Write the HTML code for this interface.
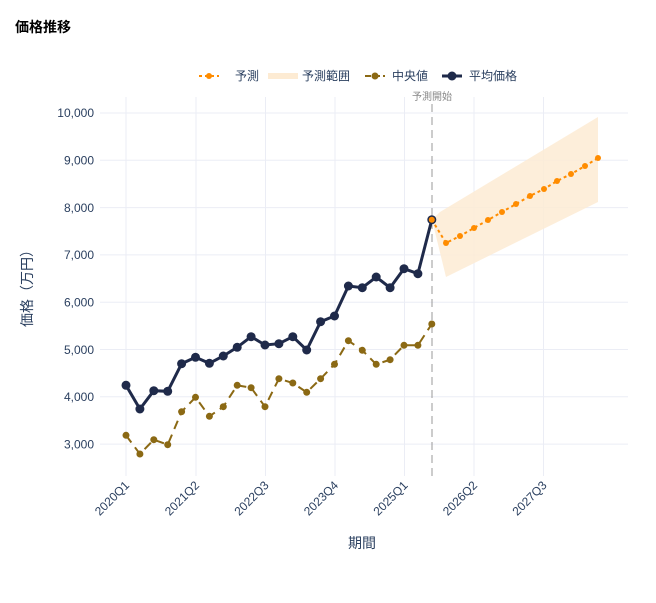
<!DOCTYPE html>
<html><head><meta charset="utf-8"><style>
body{margin:0;background:#fff;}
svg text{font-family:"Liberation Sans","Noto Sans CJK JP",sans-serif;}
</style></head><body>
<svg width="656" height="598" viewBox="0 0 656 598" xmlns="http://www.w3.org/2000/svg">
<rect width="656" height="598" fill="#fff"/>
<text x="15" y="32" font-size="14" font-weight="bold" fill="#000">価格推移</text>
<!-- grid -->
<g stroke="#ebedf5" stroke-width="1">
<line x1="100" y1="113" x2="628" y2="113"/><line x1="100" y1="160.3" x2="628" y2="160.3"/>
<line x1="100" y1="207.6" x2="628" y2="207.6"/><line x1="100" y1="254.9" x2="628" y2="254.9"/>
<line x1="100" y1="302.2" x2="628" y2="302.2"/><line x1="100" y1="349.5" x2="628" y2="349.5"/>
<line x1="100" y1="396.8" x2="628" y2="396.8"/><line x1="100" y1="444.1" x2="628" y2="444.1"/>
<line x1="126" y1="97" x2="126" y2="476"/><line x1="196" y1="97" x2="196" y2="476"/>
<line x1="265.5" y1="97" x2="265.5" y2="476"/><line x1="335" y1="97" x2="335" y2="476"/>
<line x1="404.5" y1="97" x2="404.5" y2="476"/><line x1="474" y1="97" x2="474" y2="476"/>
<line x1="543.5" y1="97" x2="543.5" y2="476"/>
</g>
<g font-size="12" fill="#2a3f5f" text-anchor="end">
<text x="94" y="117">10,000</text><text x="94" y="164.5">9,000</text><text x="94" y="212">8,000</text>
<text x="94" y="259">7,000</text><text x="94" y="306.5">6,000</text><text x="94" y="354">5,000</text>
<text x="94" y="401">4,000</text><text x="94" y="448.5">3,000</text>
</g>
<g font-size="12" fill="#2a3f5f" text-anchor="end">
<text transform="translate(130,486) rotate(-45)">2020Q1</text>
<text transform="translate(200,486) rotate(-45)">2021Q2</text>
<text transform="translate(269.5,486) rotate(-45)">2022Q3</text>
<text transform="translate(339,486) rotate(-45)">2023Q4</text>
<text transform="translate(408.5,486) rotate(-45)">2025Q1</text>
<text transform="translate(478,486) rotate(-45)">2026Q2</text>
<text transform="translate(547.5,486) rotate(-45)">2027Q3</text>
</g>
<text x="362" y="548" font-size="14" fill="#2a3f5f" text-anchor="middle">期間</text>
<text transform="translate(32,285) rotate(-90)" font-size="14" fill="#2a3f5f" text-anchor="middle">価格（万円）</text>
<!-- band -->
<polygon points="432,219.7 440,212 598,117 598,202 446,277" fill="#fdebd3" opacity="0.85"/>
<!-- vline -->
<line x1="432" y1="104" x2="432" y2="476" stroke="#999" stroke-width="1" stroke-dasharray="8,5"/>
<text x="432" y="100" font-size="10" fill="#888" text-anchor="middle">予測開始</text>
<!-- median -->
<polyline fill="none" stroke="#8b6914" stroke-width="2" stroke-dasharray="9,6" points="126,435.3 139.9,454 153.8,439.7 167.7,444.7 181.6,411.7 195.5,397.3 209.4,416.3 223.3,406.7 237.2,385.3 251.1,387.7 265,406.7 278.9,378.7 292.8,383 306.7,392.3 320.6,378.7 334.5,364.3 348.4,340.7 362.3,350.3 376.2,364.3 390.1,359.7 404,345.3 417.9,345.3 431.8,324"/>
<g fill="#8b6914">
<circle cx="126" cy="435.3" r="3.5"/><circle cx="139.9" cy="454" r="3.5"/><circle cx="153.8" cy="439.7" r="3.5"/><circle cx="167.7" cy="444.7" r="3.5"/><circle cx="181.6" cy="411.7" r="3.5"/><circle cx="195.5" cy="397.3" r="3.5"/><circle cx="209.4" cy="416.3" r="3.5"/><circle cx="223.3" cy="406.7" r="3.5"/><circle cx="237.2" cy="385.3" r="3.5"/><circle cx="251.1" cy="387.7" r="3.5"/><circle cx="265" cy="406.7" r="3.5"/><circle cx="278.9" cy="378.7" r="3.5"/><circle cx="292.8" cy="383" r="3.5"/><circle cx="306.7" cy="392.3" r="3.5"/><circle cx="320.6" cy="378.7" r="3.5"/><circle cx="334.5" cy="364.3" r="3.5"/><circle cx="348.4" cy="340.7" r="3.5"/><circle cx="362.3" cy="350.3" r="3.5"/><circle cx="376.2" cy="364.3" r="3.5"/><circle cx="390.1" cy="359.7" r="3.5"/><circle cx="404" cy="345.3" r="3.5"/><circle cx="417.9" cy="345.3" r="3.5"/><circle cx="431.8" cy="324" r="3.5"/>
</g>
<!-- average -->
<polyline fill="none" stroke="#1f2a4a" stroke-width="3" points="126,385.3 139.9,409 153.8,390.7 167.7,391.3 181.6,363.7 195.5,357.3 209.4,363.3 223.3,356 237.2,347.3 251.1,336.7 265,345 278.9,343.7 292.8,336.7 306.7,350 320.6,321.7 334.5,316 348.4,286 362.3,287.7 376.2,277 390.1,287.7 404,268.7 417.9,273.7 431.8,219.7"/>
<g fill="#1f2a4a">
<circle cx="126" cy="385.3" r="4.5"/><circle cx="139.9" cy="409" r="4.5"/><circle cx="153.8" cy="390.7" r="4.5"/><circle cx="167.7" cy="391.3" r="4.5"/><circle cx="181.6" cy="363.7" r="4.5"/><circle cx="195.5" cy="357.3" r="4.5"/><circle cx="209.4" cy="363.3" r="4.5"/><circle cx="223.3" cy="356" r="4.5"/><circle cx="237.2" cy="347.3" r="4.5"/><circle cx="251.1" cy="336.7" r="4.5"/><circle cx="265" cy="345" r="4.5"/><circle cx="278.9" cy="343.7" r="4.5"/><circle cx="292.8" cy="336.7" r="4.5"/><circle cx="306.7" cy="350" r="4.5"/><circle cx="320.6" cy="321.7" r="4.5"/><circle cx="334.5" cy="316" r="4.5"/><circle cx="348.4" cy="286" r="4.5"/><circle cx="362.3" cy="287.7" r="4.5"/><circle cx="376.2" cy="277" r="4.5"/><circle cx="390.1" cy="287.7" r="4.5"/><circle cx="404" cy="268.7" r="4.5"/><circle cx="417.9" cy="273.7" r="4.5"/><circle cx="431.8" cy="219.7" r="4.5"/>
</g>
<!-- forecast -->
<polyline fill="none" stroke="#ff8c00" stroke-width="2" stroke-dasharray="3,3" points="431.8,219.7 446,243 460,236 474,228 488,220 502,212 516,204 530,196 544,189 557,181 571,174 585,166 598,158"/>
<g fill="#ff8c00">
<circle cx="431.8" cy="219.7" r="3"/><circle cx="446" cy="243" r="3"/><circle cx="460" cy="236" r="3"/><circle cx="474" cy="228" r="3"/><circle cx="488" cy="220" r="3"/><circle cx="502" cy="212" r="3"/><circle cx="516" cy="204" r="3"/><circle cx="530" cy="196" r="3"/><circle cx="544" cy="189" r="3"/><circle cx="557" cy="181" r="3"/><circle cx="571" cy="174" r="3"/><circle cx="585" cy="166" r="3"/><circle cx="598" cy="158" r="3"/>
</g>
<!-- legend -->
<g font-size="12" fill="#2a3f5f">
<line x1="199" y1="76" x2="219" y2="76" stroke="#ff8c00" stroke-width="2" stroke-dasharray="3,3"/><circle cx="209" cy="76" r="3" fill="#ff8c00"/>
<text x="235" y="80">予測</text>
<rect x="268" y="73" width="30" height="6" fill="#fdebd3"/>
<text x="302" y="80">予測範囲</text>
<line x1="365" y1="76" x2="385" y2="76" stroke="#8b6914" stroke-width="2" stroke-dasharray="6,3"/><circle cx="375" cy="76" r="3.5" fill="#8b6914"/>
<text x="392" y="80">中央値</text>
<line x1="442" y1="76" x2="462" y2="76" stroke="#1f2a4a" stroke-width="3"/><circle cx="452" cy="76" r="4.5" fill="#1f2a4a"/>
<text x="469" y="80">平均価格</text>
</g>
</svg>
</body></html>
